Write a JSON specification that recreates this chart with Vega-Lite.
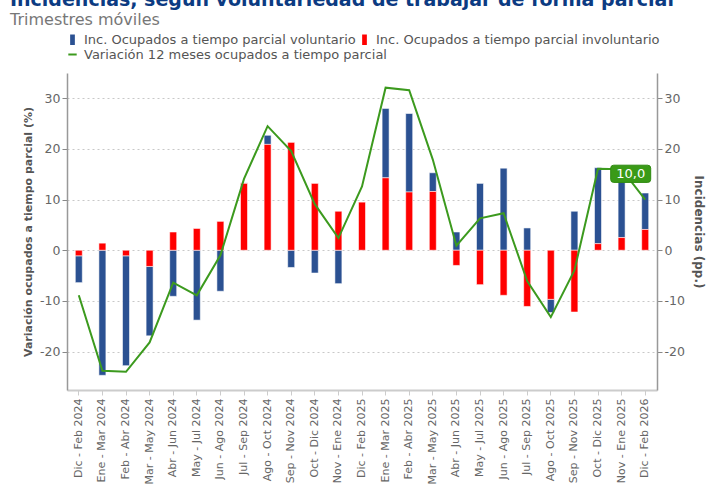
{
  "$schema": "https://vega.github.io/schema/vega-lite/v6.json",
  "width": 590,
  "height": 317,
  "autosize": {"type": "none"},
  "padding": {"left": 67, "top": 73, "right": 49, "bottom": 95},
  "background": "white",
  "config": {
    "font": "DejaVu Sans",
    "view": {"stroke": null},
    "locale": {"number": {"decimal": ",", "thousands": ".", "grouping": [3], "currency": ["", " €"], "minus": "-"}}
  },
  "title": {
    "text": "Incidencias, según voluntariedad de trabajar de forma parcial",
    "subtitle": "Trimestres móviles",
    "anchor": "start",
    "frame": "group",
    "dx": -57,
    "fontSize": 19,
    "fontWeight": "bold",
    "color": "#0c3b82",
    "subtitleFontSize": 16,
    "subtitleColor": "#777777",
    "subtitleFontWeight": "normal",
    "subtitlePadding": 2,
    "offset": 5
  },
  "datasets": {
    "barras": [
      {"periodo": "Dic - Feb 2024", "serie": "Inc. Ocupados a tiempo parcial voluntario", "valor": -5.3},
      {"periodo": "Dic - Feb 2024", "serie": "Inc. Ocupados a tiempo parcial involuntario", "valor": -1.1},
      {"periodo": "Ene - Mar 2024", "serie": "Inc. Ocupados a tiempo parcial voluntario", "valor": -24.7},
      {"periodo": "Ene - Mar 2024", "serie": "Inc. Ocupados a tiempo parcial involuntario", "valor": 1.4},
      {"periodo": "Feb - Abr 2024", "serie": "Inc. Ocupados a tiempo parcial voluntario", "valor": -21.7},
      {"periodo": "Feb - Abr 2024", "serie": "Inc. Ocupados a tiempo parcial involuntario", "valor": -1.1},
      {"periodo": "Mar - May 2024", "serie": "Inc. Ocupados a tiempo parcial voluntario", "valor": -13.7},
      {"periodo": "Mar - May 2024", "serie": "Inc. Ocupados a tiempo parcial involuntario", "valor": -3.2},
      {"periodo": "Abr - Jun 2024", "serie": "Inc. Ocupados a tiempo parcial voluntario", "valor": -9.1},
      {"periodo": "Abr - Jun 2024", "serie": "Inc. Ocupados a tiempo parcial involuntario", "valor": 3.6},
      {"periodo": "May - Jul 2024", "serie": "Inc. Ocupados a tiempo parcial voluntario", "valor": -13.8},
      {"periodo": "May - Jul 2024", "serie": "Inc. Ocupados a tiempo parcial involuntario", "valor": 4.3},
      {"periodo": "Jun - Ago 2024", "serie": "Inc. Ocupados a tiempo parcial voluntario", "valor": -8.1},
      {"periodo": "Jun - Ago 2024", "serie": "Inc. Ocupados a tiempo parcial involuntario", "valor": 5.7},
      {"periodo": "Jul - Sep 2024", "serie": "Inc. Ocupados a tiempo parcial voluntario", "valor": 0.1},
      {"periodo": "Jul - Sep 2024", "serie": "Inc. Ocupados a tiempo parcial involuntario", "valor": 13.2},
      {"periodo": "Ago - Oct 2024", "serie": "Inc. Ocupados a tiempo parcial voluntario", "valor": 1.8},
      {"periodo": "Ago - Oct 2024", "serie": "Inc. Ocupados a tiempo parcial involuntario", "valor": 20.9},
      {"periodo": "Sep - Nov 2024", "serie": "Inc. Ocupados a tiempo parcial voluntario", "valor": -3.4},
      {"periodo": "Sep - Nov 2024", "serie": "Inc. Ocupados a tiempo parcial involuntario", "valor": 21.3},
      {"periodo": "Oct - Dic 2024", "serie": "Inc. Ocupados a tiempo parcial voluntario", "valor": -4.5},
      {"periodo": "Oct - Dic 2024", "serie": "Inc. Ocupados a tiempo parcial involuntario", "valor": 13.2},
      {"periodo": "Nov - Ene 2024", "serie": "Inc. Ocupados a tiempo parcial voluntario", "valor": -6.6},
      {"periodo": "Nov - Ene 2024", "serie": "Inc. Ocupados a tiempo parcial involuntario", "valor": 7.7},
      {"periodo": "Dic - Feb 2025", "serie": "Inc. Ocupados a tiempo parcial voluntario", "valor": 0.0},
      {"periodo": "Dic - Feb 2025", "serie": "Inc. Ocupados a tiempo parcial involuntario", "valor": 9.5},
      {"periodo": "Ene - Mar 2025", "serie": "Inc. Ocupados a tiempo parcial voluntario", "valor": 13.7},
      {"periodo": "Ene - Mar 2025", "serie": "Inc. Ocupados a tiempo parcial involuntario", "valor": 14.3},
      {"periodo": "Feb - Abr 2025", "serie": "Inc. Ocupados a tiempo parcial voluntario", "valor": 15.5},
      {"periodo": "Feb - Abr 2025", "serie": "Inc. Ocupados a tiempo parcial involuntario", "valor": 11.5},
      {"periodo": "Mar - May 2025", "serie": "Inc. Ocupados a tiempo parcial voluntario", "valor": 3.7},
      {"periodo": "Mar - May 2025", "serie": "Inc. Ocupados a tiempo parcial involuntario", "valor": 11.6},
      {"periodo": "Abr - Jun 2025", "serie": "Inc. Ocupados a tiempo parcial voluntario", "valor": 3.6},
      {"periodo": "Abr - Jun 2025", "serie": "Inc. Ocupados a tiempo parcial involuntario", "valor": -3.0},
      {"periodo": "May - Jul 2025", "serie": "Inc. Ocupados a tiempo parcial voluntario", "valor": 13.2},
      {"periodo": "May - Jul 2025", "serie": "Inc. Ocupados a tiempo parcial involuntario", "valor": -6.8},
      {"periodo": "Jun - Ago 2025", "serie": "Inc. Ocupados a tiempo parcial voluntario", "valor": 16.2},
      {"periodo": "Jun - Ago 2025", "serie": "Inc. Ocupados a tiempo parcial involuntario", "valor": -8.9},
      {"periodo": "Jul - Sep 2025", "serie": "Inc. Ocupados a tiempo parcial voluntario", "valor": 4.4},
      {"periodo": "Jul - Sep 2025", "serie": "Inc. Ocupados a tiempo parcial involuntario", "valor": -11.1},
      {"periodo": "Ago - Oct 2025", "serie": "Inc. Ocupados a tiempo parcial voluntario", "valor": -2.6},
      {"periodo": "Ago - Oct 2025", "serie": "Inc. Ocupados a tiempo parcial involuntario", "valor": -9.7},
      {"periodo": "Sep - Nov 2025", "serie": "Inc. Ocupados a tiempo parcial voluntario", "valor": 7.7},
      {"periodo": "Sep - Nov 2025", "serie": "Inc. Ocupados a tiempo parcial involuntario", "valor": -12.2},
      {"periodo": "Oct - Dic 2025", "serie": "Inc. Ocupados a tiempo parcial voluntario", "valor": 15.0},
      {"periodo": "Oct - Dic 2025", "serie": "Inc. Ocupados a tiempo parcial involuntario", "valor": 1.3},
      {"periodo": "Nov - Ene 2025", "serie": "Inc. Ocupados a tiempo parcial voluntario", "valor": 11.5},
      {"periodo": "Nov - Ene 2025", "serie": "Inc. Ocupados a tiempo parcial involuntario", "valor": 2.5},
      {"periodo": "Dic - Feb 2026", "serie": "Inc. Ocupados a tiempo parcial voluntario", "valor": 7.2},
      {"periodo": "Dic - Feb 2026", "serie": "Inc. Ocupados a tiempo parcial involuntario", "valor": 4.1}
    ],
    "variacion": [
      {"periodo": "Dic - Feb 2024", "variacion": -8.9},
      {"periodo": "Ene - Mar 2024", "variacion": -23.8},
      {"periodo": "Feb - Abr 2024", "variacion": -24.0},
      {"periodo": "Mar - May 2024", "variacion": -18.2},
      {"periodo": "Abr - Jun 2024", "variacion": -6.4},
      {"periodo": "May - Jul 2024", "variacion": -8.9},
      {"periodo": "Jun - Ago 2024", "variacion": -1.0},
      {"periodo": "Jul - Sep 2024", "variacion": 14.1},
      {"periodo": "Ago - Oct 2024", "variacion": 24.5},
      {"periodo": "Sep - Nov 2024", "variacion": 19.6},
      {"periodo": "Oct - Dic 2024", "variacion": 9.1},
      {"periodo": "Nov - Ene 2024", "variacion": 2.4},
      {"periodo": "Dic - Feb 2025", "variacion": 12.6},
      {"periodo": "Ene - Mar 2025", "variacion": 32.1},
      {"periodo": "Feb - Abr 2025", "variacion": 31.6},
      {"periodo": "Mar - May 2025", "variacion": 17.9},
      {"periodo": "Abr - Jun 2025", "variacion": 0.9},
      {"periodo": "May - Jul 2025", "variacion": 6.3},
      {"periodo": "Jun - Ago 2025", "variacion": 7.3},
      {"periodo": "Jul - Sep 2025", "variacion": -6.1},
      {"periodo": "Ago - Oct 2025", "variacion": -13.2},
      {"periodo": "Sep - Nov 2025", "variacion": -4.0},
      {"periodo": "Oct - Dic 2025", "variacion": 16.1},
      {"periodo": "Nov - Ene 2025", "variacion": 16.0},
      {"periodo": "Dic - Feb 2026", "variacion": 10.0}
    ]
  },
  "encoding": {
    "x": {
      "field": "periodo",
      "type": "nominal",
      "sort": null,
      "scale": {"paddingInner": 0, "paddingOuter": 0},
      "axis": {
        "title": "Trimestres móviles",
        "titleFontSize": 12,
        "titleFontWeight": "bold",
        "titleColor": "#555555",
        "titlePadding": 4,
        "labelAngle": -90,
        "labelFontSize": 11,
        "labelColor": "#666666",
        "labelPadding": 3,
        "tickColor": "#cccccc",
        "tickSize": 5,
        "domainColor": "#cccccc",
        "domainWidth": 2
      }
    }
  },
  "layer": [
    {
      "data": {"name": "barras"},
      "mark": {"type": "bar", "width": 7, "stroke": "white", "strokeWidth": 1, "strokeOpacity": 0.55},
      "encoding": {
        "y": {
          "field": "valor",
          "type": "quantitative",
          "stack": "zero",
          "scale": {"domain": [-27.6, 35], "nice": false, "zero": false},
          "axis": {
            "title": "Variación ocupados a tiempo parcial (%)",
            "titleFontSize": 11,
            "titleFontWeight": "bold",
            "titleColor": "#555555",
            "titlePadding": 6,
            "values": [-20, -10, 0, 10, 20, 30],
            "format": "d",
            "labelFontSize": 12.5,
            "labelColor": "#666666",
            "labelPadding": 2,
            "tickColor": "#888888",
            "tickSize": 5,
            "domainColor": "#999999",
            "domainWidth": 1.5,
            "grid": true,
            "gridColor": "#c8c8c8",
            "gridDash": [2, 3]
          }
        },
        "color": {
          "field": "serie",
          "type": "nominal",
          "scale": {
            "domain": ["Inc. Ocupados a tiempo parcial voluntario", "Inc. Ocupados a tiempo parcial involuntario"],
            "range": ["#2b5192", "#ff0000"]
          },
          "legend": {
            "title": null,
            "orient": "none",
            "legendX": -1,
            "legendY": -40,
            "direction": "horizontal",
            "columnPadding": 2,
            "labelFontSize": 13,
            "labelColor": "#555555",
            "labelOffset": 5,
            "labelLimit": 400,
            "symbolType": "M-0.45,-1H0.45V1H-0.45Z",
            "symbolSize": 110,
            "symbolStrokeWidth": 0
          }
        },
        "order": {"field": "serie", "sort": "ascending"}
      }
    },
    {
      "mark": {"type": "rule", "color": "#888888", "strokeWidth": 2},
      "encoding": {
        "y": {"datum": 0, "type": "quantitative", "scale": {"domain": [-27.6, 35], "nice": false, "zero": false}, "axis": null}
      }
    },
    {
      "data": {"name": "variacion"},
      "mark": {"type": "line", "strokeWidth": 2},
      "encoding": {
        "y": {
          "field": "variacion",
          "type": "quantitative",
          "scale": {"domain": [-27.6, 35], "nice": false, "zero": false},
          "axis": {
            "orient": "right",
            "title": "Incidencias (pp.)",
            "titleFontSize": 12,
            "titleFontWeight": "bold",
            "titleColor": "#555555",
            "titlePadding": 7,
            "titleAngle": 90,
            "values": [-20, -10, 0, 10, 20, 30],
            "format": "d",
            "labelFontSize": 12.5,
            "labelColor": "#666666",
            "labelPadding": 2,
            "tickColor": "#888888",
            "tickSize": 5,
            "domainColor": "#999999",
            "domainWidth": 1.5,
            "grid": false
          }
        },
        "color": {
          "datum": "Variación 12 meses ocupados a tiempo parcial",
          "scale": {"domain": ["Variación 12 meses ocupados a tiempo parcial"], "range": ["#3c9a1e"]},
          "legend": {
            "title": null,
            "orient": "none",
            "legendX": -1,
            "legendY": -25,
            "labelFontSize": 13,
            "labelColor": "#555555",
            "labelOffset": 5,
            "labelLimit": 400,
            "symbolType": "stroke",
            "symbolSize": 70,
            "symbolStrokeWidth": 2
          }
        }
      }
    },
    {
      "data": {"name": "variacion"},
      "transform": [{"filter": "datum.periodo === 'Dic - Feb 2026'"}],
      "mark": {
        "type": "point",
        "shape": "M-0.85,-0.43H0.85Q1,-0.43 1,-0.28V0.28Q1,0.43 0.85,0.43H-0.85Q-1,0.43 -1,0.28V-0.28Q-1,-0.43 -0.85,-0.43Z",
        "size": 1600,
        "filled": true,
        "fill": "#3a9a17",
        "stroke": "#2f8a10",
        "strokeWidth": 1,
        "opacity": 1,
        "xOffset": -14.5,
        "yOffset": -25.8
      },
      "encoding": {
        "y": {"field": "variacion", "type": "quantitative", "scale": {"domain": [-27.6, 35], "nice": false, "zero": false}, "axis": null}
      }
    },
    {
      "data": {"name": "variacion"},
      "transform": [{"filter": "datum.periodo === 'Dic - Feb 2026'"}],
      "mark": {"type": "text", "color": "white", "fontSize": 13, "align": "center", "baseline": "middle", "xOffset": -14.5, "yOffset": -25.8},
      "encoding": {
        "y": {"field": "variacion", "type": "quantitative", "scale": {"domain": [-27.6, 35], "nice": false, "zero": false}, "axis": null},
        "text": {"field": "variacion", "type": "quantitative", "format": ".1f"}
      }
    }
  ],
  "resolve": {"scale": {"y": "independent", "color": "independent"}}
}
